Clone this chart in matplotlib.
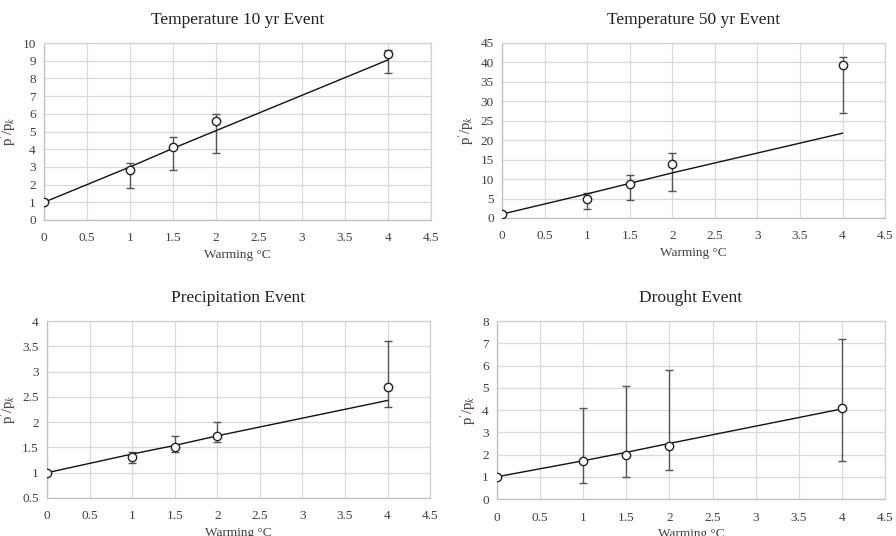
import numpy as np
import matplotlib
matplotlib.use('Agg')
import matplotlib.pyplot as plt

plt.rcParams['font.family'] = ['Liberation Serif', 'DejaVu Serif']
plt.rcParams['mathtext.fontset'] = 'stix'

# warming levels (°C)
warming = [0, 1, 1.5, 2, 4]

# Temperature 10 yr event
t10_val = [1, 2.8, 4.1, 5.6, 9.4]
t10_low = [1, 1.8, 2.8, 3.8, 8.3]
t10_high = [1, 3.2, 4.7, 6.0, 9.6]
t10_fit = [1, 3.0, 4.05, 5.05, 9.05]

# Temperature 50 yr event
t50_val = [1, 5.0, 8.7, 14.0, 39.3]
t50_low = [1, 2.3, 4.5, 7.0, 27.0]
t50_high = [1, 6.3, 11.0, 16.8, 41.5]
t50_fit = [1, 6.2, 8.9, 11.6, 21.8]

# Precipitation event
pr_val = [1, 1.31, 1.5, 1.72, 2.7]
pr_low = [1, 1.2, 1.41, 1.6, 2.3]
pr_high = [1, 1.41, 1.72, 2.0, 3.6]
pr_fit = [1, 1.37, 1.54, 1.73, 2.43]

# Drought event
dr_val = [1, 1.7, 2.0, 2.4, 4.1]
dr_low = [1, 0.7, 1.0, 1.3, 1.7]
dr_high = [1, 4.1, 5.1, 5.8, 7.2]
dr_fit = [1, 1.72, 2.1, 2.5, 4.05]

titles = ['Temperature 10 yr Event', 'Temperature 50 yr Event',
          'Precipitation Event', 'Drought Event']
ylims = [(0, 10), (0, 45), (0.5, 4), (0, 8)]
ysteps = [1, 5, 0.5, 1]

panels = [(t10_val, t10_low, t10_high, t10_fit),
          (t50_val, t50_low, t50_high, t50_fit),
          (pr_val, pr_low, pr_high, pr_fit),
          (dr_val, dr_low, dr_high, dr_fit)]

# axes boxes in figure fraction (left, bottom, width, height)
boxes = [(0.0491, 0.5896, 0.432, 0.330),
         (0.5603, 0.5933, 0.4275, 0.3265),
         (0.0525, 0.0709, 0.4275, 0.330),
         (0.5547, 0.0690, 0.433, 0.332)]

fig = plt.figure(figsize=(8.96, 5.36), dpi=100)

for ind in range(4):
    val, low, high, fit = panels[ind]
    ax = fig.add_axes(boxes[ind])
    val = np.array(val)
    yerr = [val - np.array(low), np.array(high) - val]
    ax.errorbar(warming, val, yerr=yerr, fmt='none', ecolor='#555555',
                elinewidth=1, capsize=3, capthick=1, zorder=3)
    ax.plot(warming, fit, color='#111111', lw=1, zorder=4)
    ax.plot(warming, val, 'o', mfc='white', mec='#222222', ms=6, mew=1, zorder=5)

    ax.set_xlim(0, 4.5)
    ax.set_ylim(*ylims[ind])
    xt = np.arange(0, 4.51, 0.5)
    yt = np.arange(ylims[ind][0], ylims[ind][1] + 1e-9, ysteps[ind])
    ax.set_xticks(xt)
    ax.set_xticklabels(['{:g}'.format(v) for v in xt])
    ax.set_yticks(yt)
    ax.set_yticklabels(['{:g}'.format(v) for v in yt])
    ax.grid(True, color='#d9d9d9', lw=0.9)
    ax.set_axisbelow(True)
    for s in ax.spines.values():
        s.set_color('#d0d0d0')
        s.set_linewidth(0.9)
    ax.spines['left'].set_color('#bfbfbf')
    ax.spines['bottom'].set_color('#bfbfbf')
    ax.tick_params(length=0, labelsize=9.5, colors='#404040')
    ax.tick_params(axis='x', pad=9)
    ax.tick_params(axis='y', pad=6)
    ax.set_title(titles[ind], fontsize=12.5, color='#222222', pad=14)
    ax.set_xlabel('Warming °C', fontsize=9.5, color='#404040', labelpad=3)
    ax.set_ylabel(r"p$^{\prime}$/p$_{k}$", fontsize=10.5, color='#4a2a2a', labelpad=3)

fig.savefig('out.png', dpi=100)
